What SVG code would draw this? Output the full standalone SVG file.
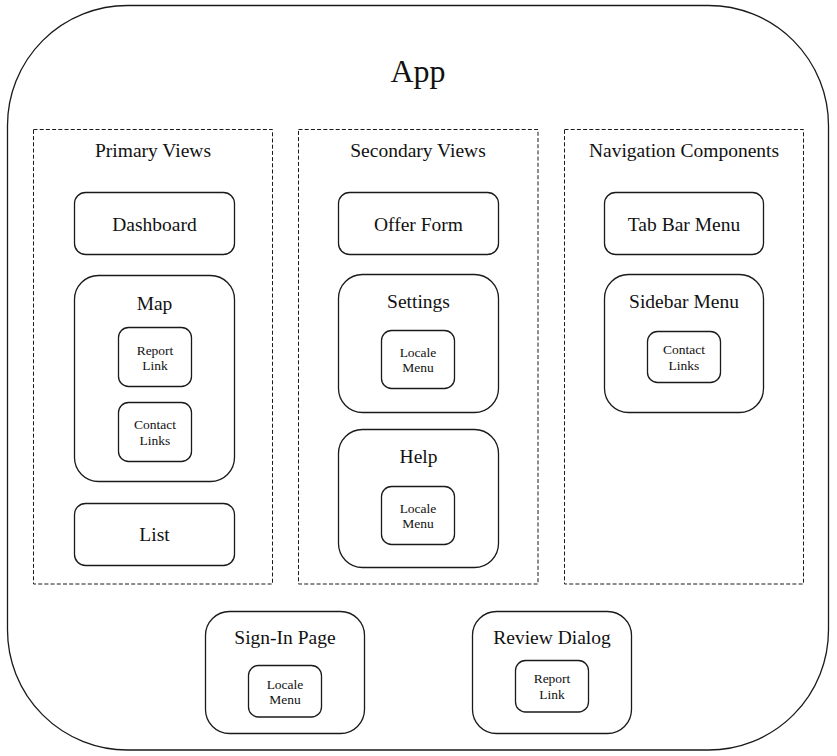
<svg xmlns="http://www.w3.org/2000/svg" width="837" height="756" viewBox="0 0 837 756">
<style>
.box{fill:#fff;stroke:#1a1a1a;stroke-width:1.3}
.grp{fill:none;stroke:#1a1a1a;stroke-width:1;stroke-dasharray:4 2.2}
text{font-family:"Liberation Serif","Times New Roman",serif;fill:#111;text-anchor:middle}
.t{font-size:19.5px}
.s{font-size:13.5px}
.big{font-size:32px}
</style>
<rect width="837" height="756" fill="#fff"/>
<g id="app">
<rect class="box" x="7.5" y="5.5" width="821" height="744.5" rx="120" ry="120"/>
<text class="big" x="418" y="82">App</text>
</g>
<g id="primary-views">
<rect class="grp" x="33.5" y="129.5" width="239" height="454.5"/>
<text class="t" x="153" y="157">Primary Views</text>
</g>
<g id="secondary-views">
<rect class="grp" x="298.5" y="129.5" width="239.5" height="454.5"/>
<text class="t" x="418" y="157">Secondary Views</text>
</g>
<g id="navigation-components">
<rect class="grp" x="564.5" y="129.5" width="239" height="454.5"/>
<text class="t" x="684" y="157">Navigation Components</text>
</g>
<g id="dashboard">
<rect class="box" x="74.5" y="192.5" width="160" height="62" rx="11"/>
<text class="t" x="154.5" y="231">Dashboard</text>
</g>
<g id="map">
<rect class="box" x="74.5" y="275.5" width="160" height="206" rx="24"/>
<text class="t" x="154.5" y="310">Map</text>
</g>
<g id="map-report-link">
<rect class="box" x="118.5" y="327.5" width="73" height="59" rx="10"/>
<text class="s" x="155" y="354.5">Report</text>
<text class="s" x="155" y="370">Link</text>
</g>
<g id="map-contact-links">
<rect class="box" x="118.5" y="402.5" width="73" height="59" rx="10"/>
<text class="s" x="155" y="429">Contact</text>
<text class="s" x="155" y="445">Links</text>
</g>
<g id="list">
<rect class="box" x="74.5" y="503.5" width="160" height="62" rx="11"/>
<text class="t" x="154.5" y="541">List</text>
</g>
<g id="offer-form">
<rect class="box" x="338.5" y="192.5" width="160" height="62" rx="11"/>
<text class="t" x="418.5" y="231">Offer Form</text>
</g>
<g id="settings">
<rect class="box" x="338.5" y="274.5" width="160" height="138" rx="24"/>
<text class="t" x="418.5" y="308">Settings</text>
</g>
<g id="settings-locale-menu">
<rect class="box" x="381.5" y="330.5" width="73" height="58" rx="10"/>
<text class="s" x="418" y="357">Locale</text>
<text class="s" x="418" y="372">Menu</text>
</g>
<g id="help">
<rect class="box" x="338.5" y="429.5" width="160" height="138" rx="24"/>
<text class="t" x="418.5" y="463">Help</text>
</g>
<g id="help-locale-menu">
<rect class="box" x="381.5" y="486.5" width="73" height="58" rx="10"/>
<text class="s" x="418" y="513">Locale</text>
<text class="s" x="418" y="528">Menu</text>
</g>
<g id="tab-bar-menu">
<rect class="box" x="604.5" y="192.5" width="159" height="62" rx="11"/>
<text class="t" x="684" y="231">Tab Bar Menu</text>
</g>
<g id="sidebar-menu">
<rect class="box" x="604.5" y="274.5" width="159" height="138" rx="24"/>
<text class="t" x="684" y="308">Sidebar Menu</text>
</g>
<g id="sidebar-contact-links">
<rect class="box" x="647.5" y="331.5" width="73" height="51" rx="10"/>
<text class="s" x="684" y="353.5">Contact</text>
<text class="s" x="684" y="369.5">Links</text>
</g>
<g id="sign-in-page">
<rect class="box" x="205.5" y="611.5" width="159" height="122" rx="24"/>
<text class="t" x="285" y="644">Sign-In Page</text>
</g>
<g id="sign-in-locale-menu">
<rect class="box" x="248.5" y="665.5" width="73" height="51.5" rx="10"/>
<text class="s" x="285" y="688.5">Locale</text>
<text class="s" x="285" y="704">Menu</text>
</g>
<g id="review-dialog">
<rect class="box" x="472.5" y="611.5" width="159" height="122" rx="24"/>
<text class="t" x="552" y="644">Review Dialog</text>
</g>
<g id="review-report-link">
<rect class="box" x="515.5" y="660.5" width="73" height="51.5" rx="10"/>
<text class="s" x="552" y="683">Report</text>
<text class="s" x="552" y="698.5">Link</text>
</g>
<g id="connectors"></g>
</svg>
